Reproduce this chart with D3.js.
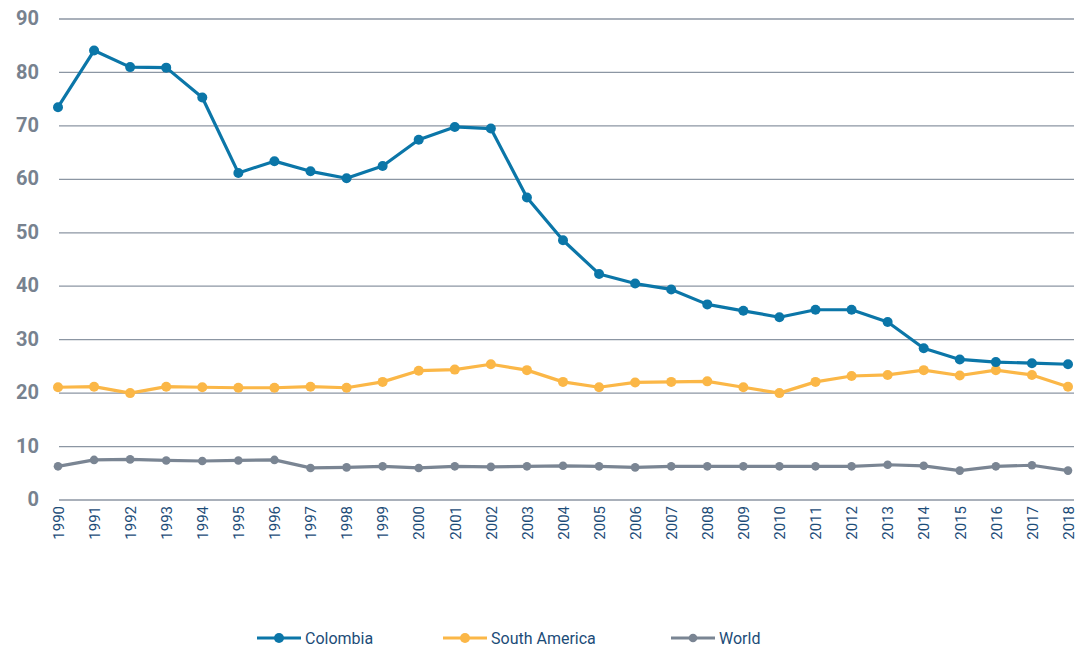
<!DOCTYPE html>
<html>
<head>
<meta charset="utf-8">
<script src="https://cdnjs.cloudflare.com/ajax/libs/d3/7.8.5/d3.min.js"></script>
<style>
  body { margin: 0; background: #fff; }
  svg { display: block; font-family: "Roboto", "Noto Sans", sans-serif; }
</style>
</head>
<body>
<div id="chart"></div>
<script>
// data
var years = d3.range(1990, 2019);
var colombia = [73.5, 84.1, 81.0, 80.9, 75.3, 61.2, 63.4, 61.5, 60.2, 62.5, 67.4, 69.8, 69.5, 56.6, 48.6,
                42.3, 40.5, 39.4, 36.6, 35.4, 34.2, 35.6, 35.6, 33.3, 28.4, 26.3, 25.8, 25.6, 25.4];
var southAmerica = [21.1, 21.2, 20.0, 21.2, 21.1, 21.0, 21.0, 21.2, 21.0, 22.1, 24.2, 24.4, 25.4, 24.3, 22.1,
                    21.1, 22.0, 22.1, 22.2, 21.1, 20.0, 22.1, 23.2, 23.4, 24.3, 23.3, 24.3, 23.4, 21.2];
var world = [6.3, 7.5, 7.6, 7.4, 7.3, 7.4, 7.5, 6.0, 6.1, 6.3, 6.0, 6.3, 6.2, 6.3, 6.4,
             6.3, 6.1, 6.3, 6.3, 6.3, 6.3, 6.3, 6.3, 6.6, 6.4, 5.5, 6.3, 6.5, 5.5];
var yTicks = [0, 10, 20, 30, 40, 50, 60, 70, 80, 90];

var series = [
  { name: "Colombia", values: colombia, color: "#0b76a8", r: 5, legendX: 257 },
  { name: "South America", values: southAmerica, color: "#fbb747", r: 5, legendX: 443 },
  { name: "World", values: world, color: "#7a8593", r: 4.3, legendX: 671 }
];

var width = 1083, height = 652;

var svg = d3.select("#chart")
    .append("svg")
    .attr("width", width)
    .attr("height", height);

var x = d3.scaleLinear().domain([1990, 2018]).range([58, 1068]);
var y = d3.scaleLinear().domain([0, 90]).range([500, 19]);

// horizontal grid lines
svg.append("g")
    .selectAll("line")
    .data(yTicks)
    .enter()
        .append("line")
        .attr("x1", 59)
        .attr("x2", 1074)
        .attr("y1", function(d){ return y(d); })
        .attr("y2", function(d){ return y(d); })
        .attr("stroke", "#8c96a3")
        .attr("stroke-width", 1.3);

// y axis labels
var yAxis = svg.append("g")
    .attr("transform", "translate(39,0)")
    .call(d3.axisLeft(y).tickValues(yTicks).tickSize(0).tickPadding(0));
yAxis.select(".domain").remove();
yAxis.selectAll("text")
    .attr("fill", "#77828f")
    .attr("font-size", "20px")
    .attr("font-weight", "bold")
    .attr("dy", "0.28em")
    .style("font-family", "Roboto, sans-serif");

// x axis labels (rotated years)
var xAxis = svg.append("g")
    .attr("transform", "translate(0,506)")
    .call(d3.axisBottom(x).tickValues(years).tickFormat(d3.format("d")).tickSize(0).tickPadding(0));
xAxis.select(".domain").remove();
xAxis.selectAll("text")
    .attr("fill", "#1c4c78")
    .attr("font-size", "15px")
    .attr("text-anchor", "end")
    .attr("transform", "rotate(-90)")
    .attr("x", 0)
    .attr("y", 0)
    .attr("dy", "0.35em")
    .style("font-family", "Roboto, sans-serif");

var line = d3.line()
    .x(function(d, i){ return x(years[i]); })
    .y(function(d){ return y(d); });

// draw series back to front: world, south america, colombia
series.slice().reverse().forEach(function(s){
    svg.append("path")
        .datum(s.values)
        .attr("d", line)
        .attr("fill", "none")
        .attr("stroke", s.color)
        .attr("stroke-width", 3.2)
        .attr("stroke-linejoin", "round");

    svg.append("g")
        .selectAll("circle")
        .data(s.values)
        .enter()
            .append("circle")
            .attr("cx", function(d, i){ return x(years[i]); })
            .attr("cy", function(d){ return y(d); })
            .attr("r", s.r)
            .attr("fill", s.color);
});

// legend
var legend = svg.append("g")
    .selectAll("g")
    .data(series)
    .enter()
        .append("g")
        .attr("transform", function(d){ return "translate(" + d.legendX + ",638)"; });

legend.append("line")
    .attr("x1", 0)
    .attr("x2", 44)
    .attr("stroke", function(d){ return d.color; })
    .attr("stroke-width", 3.2);
legend.append("circle")
    .attr("cx", 22)
    .attr("r", function(d){ return d.r; })
    .attr("fill", function(d){ return d.color; });
legend.append("text")
    .attr("x", 48)
    .attr("dy", "0.35em")
    .attr("fill", "#1c4c78")
    .attr("font-size", "16px")
    .text(function(d){ return d.name; });
</script>
</body>
</html>
